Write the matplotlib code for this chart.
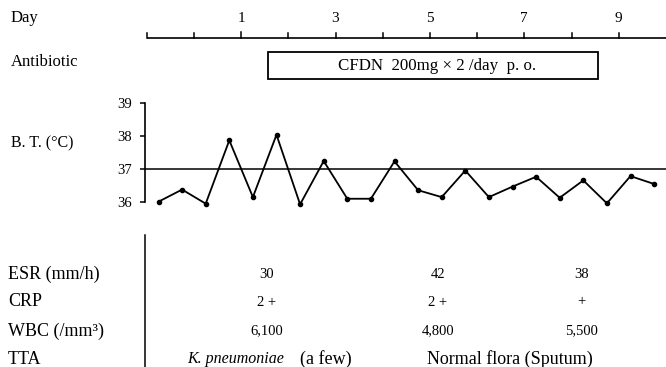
import matplotlib
matplotlib.use("Agg")
import matplotlib.pyplot as plt
from matplotlib.patches import Rectangle

plt.rcParams['font.family'] = ['Liberation Serif', 'DejaVu Serif']

# ---------------- data ----------------
day_ticks = [-1, 0, 1, 2, 3, 4, 5, 6, 7, 8, 9]
day_labels = {1: "1", 3: "3", 5: "5", 7: "7", 9: "9"}

antibiotic_text = "CFDN  200mg × 2 /day  p. o."
antibiotic_start = 1.57
antibiotic_end = 8.56

temp_times = [-0.75, -0.25, 0.25, 0.75, 1.25, 1.75, 2.25, 2.75, 3.25, 3.75, 4.25,
              4.75, 5.25, 5.75, 6.25, 6.75, 7.25, 7.75, 8.25, 8.75, 9.25, 9.75]
temps = [36.0, 36.37, 35.94, 37.87, 36.14, 38.04, 35.92, 37.24, 36.09, 36.09, 37.23,
         36.35, 36.14, 36.95, 36.14, 36.46, 36.76, 36.12, 36.65, 35.95, 36.78, 36.54]
temp_ticks = [36, 37, 38, 39]
normal_temp = 37

lab_days = [1.55, 5.17, 8.22]
esr = ["30", "42", "38"]
crp = ["2 +", "2 +", "+"]
wbc = ["6,100", "4,800", "5,500"]

# ---------------- layout ----------------
W, H = 666, 367
fig = plt.figure(figsize=(W / 100, H / 100), dpi=100)

px_per_day = 47.2
day0_px = 146.7  # pixel of day -1

def px_to_day(px):
    return -1 + (px - day0_px) / px_per_day

# background axes: x in days, y in pixels (top = 0)
bg = fig.add_axes([0, 0, 1, 1])
bg.set_xlim(px_to_day(0), px_to_day(W))
bg.set_ylim(H, 0)
bg.axis("off")

label_x = px_to_day(11)

# Day axis
axis_y = 38.3
bg.plot([-1, px_to_day(W)], [axis_y, axis_y], color="black", lw=1.2, solid_capstyle="butt")
for d in day_ticks:
    h = 6 if d == 1 else 5
    bg.plot([d, d], [axis_y, axis_y - h], color="black", lw=1.1)
for d, s in day_labels.items():
    bg.text(d, 18, s, ha="center", va="center", fontsize=11)
bg.text(label_x, 18, "Day", ha="left", va="center", fontsize=12)

# Antibiotic
bg.text(label_x, 62, "Antibiotic", ha="left", va="center", fontsize=12)
bg.add_patch(Rectangle((antibiotic_start, 52), antibiotic_end - antibiotic_start, 27,
                       fill=False, edgecolor="black", lw=1.3))
bg.text(px_to_day(437), 65.5, antibiotic_text, ha="center", va="center", fontsize=12.2)

# B.T. label
bg.text(label_x, 143, "B. T. (°C)", ha="left", va="center", fontsize=11.5)

# Lower table
bg.plot([px_to_day(145), px_to_day(145)], [235, H], color="black", lw=1.1)
rows_y = [274, 302, 331, 359]
row_labels = ["ESR (mm/h)", "CRP", "WBC (/mm³)", "TTA"]
for y, s in zip(rows_y, row_labels):
    bg.text(px_to_day(8), y, s, ha="left", va="center", fontsize=13)
for vals, y in zip([esr, crp, wbc], rows_y[:3]):
    for d, v in zip(lab_days, vals):
        bg.text(d, y, v, ha="center", va="center", fontsize=10.5)
bg.text(px_to_day(187), rows_y[3], "K. pneumoniae", ha="left", va="center",
        fontsize=11.5, style="italic")
bg.text(px_to_day(326), rows_y[3], "(a few)", ha="center", va="center", fontsize=13)
bg.text(px_to_day(510), rows_y[3], "Normal flora (Sputum)", ha="center", va="center",
        fontsize=13)

# Temperature axes
y39_px, y36_px = 103.3, 201.7
ppd = (y36_px - y39_px) / 3
ylo, yhi = 35.5, 39.2
bot_px = y36_px + (36 - ylo) * ppd
top_px = y39_px - (yhi - 39) * ppd
left_px = 145
ax = fig.add_axes([left_px / W, 1 - bot_px / H, (W - left_px) / W, (bot_px - top_px) / H])
ax.set_xlim(px_to_day(left_px), px_to_day(W))
ax.set_ylim(ylo, yhi)
ax.patch.set_alpha(0)
for s in ["top", "right", "bottom"]:
    ax.spines[s].set_visible(False)
ax.spines["left"].set_bounds(36, 39)
ax.spines["left"].set_linewidth(1.2)
ax.set_xticks([])
ax.set_yticks(temp_ticks)
ax.set_yticklabels([str(t) for t in temp_ticks])
ax.tick_params(axis="y", direction="out", length=3.5, width=1.1, pad=6, labelsize=10.5)
ax.axhline(normal_temp, color="black", lw=1.1)
ax.plot(temp_times, temps, color="black", lw=1.3, marker="o", markersize=3, clip_on=False)

fig.savefig("out.png", dpi=100)
